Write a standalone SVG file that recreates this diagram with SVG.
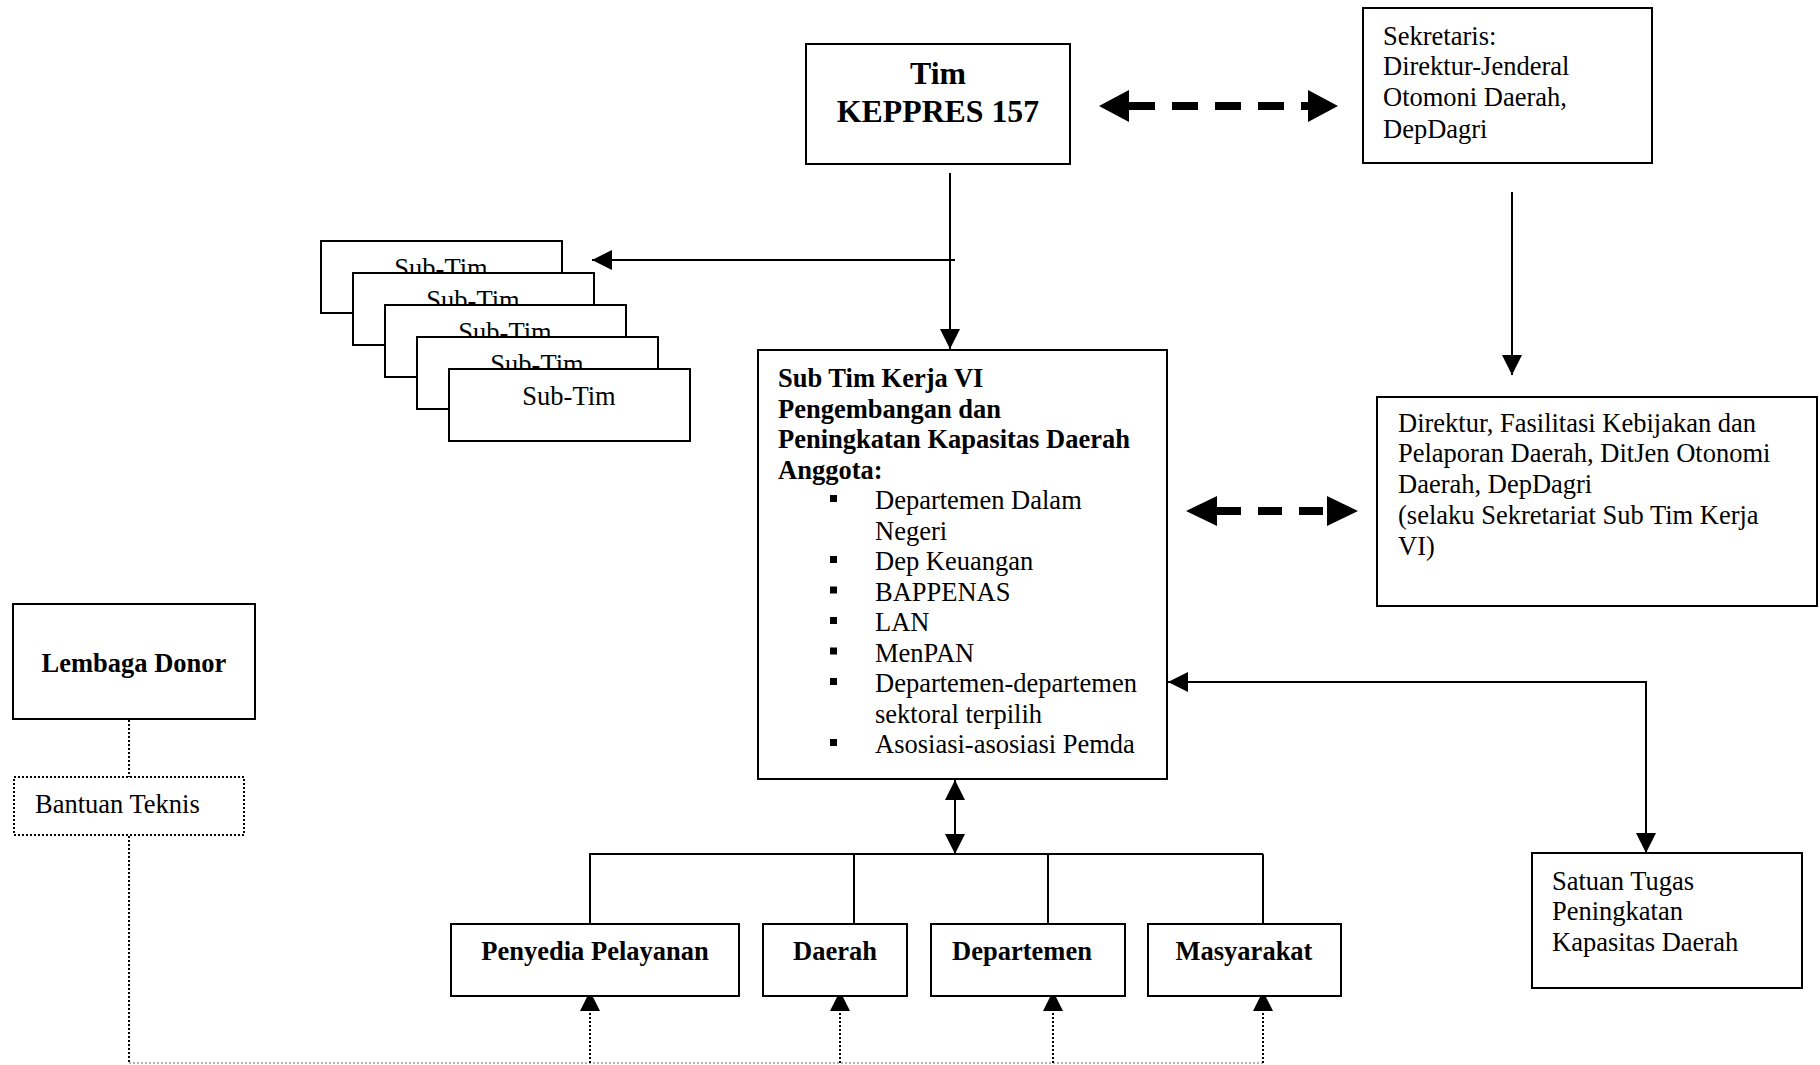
<svg xmlns="http://www.w3.org/2000/svg" width="1820" height="1065" viewBox="0 0 1820 1065">
<style>
  .box{fill:#fff;stroke:#000;stroke-width:2}
  .dbox{fill:#fff;stroke:#000;stroke-width:2;stroke-dasharray:2 2}
  .t{font-family:"Liberation Serif","Times New Roman",serif;font-size:26.5px;fill:#000}
  .b{font-weight:bold}
  .c{text-anchor:middle}
  .ln{fill:none;stroke:#000;stroke-width:2}
  .dash{fill:none;stroke:#000;stroke-width:8}
  .dot{fill:none;stroke:#000;stroke-width:2;stroke-dasharray:2 2}
  .gdot{fill:none;stroke:#999;stroke-width:1.5;stroke-dasharray:2 2}
  .hd{fill:#000}
</style>
<defs>
  <marker id="ah" markerWidth="20" markerHeight="20" refX="20" refY="10" orient="auto" markerUnits="userSpaceOnUse">
    <path d="M0,0 L20,10 L0,20 Z" fill="#000"/>
  </marker>
  <marker id="ahs" markerWidth="20" markerHeight="20" refX="20" refY="10" orient="auto-start-reverse" markerUnits="userSpaceOnUse">
    <path d="M0,0 L20,10 L0,20 Z" fill="#000"/>
  </marker>
</defs>

<g id="connectors">
  <!-- Tim to Sekretaris dashed double arrow -->
  <line class="dash" x1="1129" y1="106" x2="1310" y2="106" stroke-dasharray="26 17"/>
  <polygon class="hd" points="1099,106 1129,90 1129,122"/>
  <polygon class="hd" points="1338,106 1308,90 1308,122"/>
  <!-- Tim down to Sub Tim Kerja VI -->
  <line class="ln" x1="950" y1="173" x2="950" y2="349" marker-end="url(#ah)"/>
  <!-- to Sub-Tim stack -->
  <line class="ln" x1="955" y1="260" x2="592" y2="260" marker-end="url(#ah)"/>
  <!-- Sekretaris down to Direktur -->
  <line class="ln" x1="1512" y1="192" x2="1512" y2="375" marker-end="url(#ah)"/>
  <!-- Sub Tim to Direktur dashed double arrow -->
  <line class="dash" x1="1217" y1="511" x2="1327" y2="511" stroke-dasharray="24 17"/>
  <polygon class="hd" points="1186,511 1217,496 1217,526"/>
  <polygon class="hd" points="1358,511 1327,496 1327,526"/>
  <!-- Sub Tim to Satuan Tugas -->
  <polyline class="ln" points="1646,853 1646,682 1168,682" marker-start="url(#ahs)" marker-end="url(#ah)"/>
  <!-- Sub Tim to bottom bus -->
  <line class="ln" x1="955" y1="780" x2="955" y2="854" marker-start="url(#ahs)" marker-end="url(#ah)"/>
  <line class="ln" x1="590" y1="854" x2="1263" y2="854"/>
  <line class="ln" x1="590" y1="853" x2="590" y2="925"/>
  <line class="ln" x1="854" y1="854" x2="854" y2="925"/>
  <line class="ln" x1="1048" y1="854" x2="1048" y2="925"/>
  <line class="ln" x1="1263" y1="854" x2="1263" y2="925"/>
  <!-- Lembaga Donor dotted -->
  <line class="dot" x1="129" y1="720" x2="129" y2="777"/>
  <line class="dot" x1="129" y1="836" x2="129" y2="1063"/>
  <line class="gdot" x1="129" y1="1063" x2="1263" y2="1063"/>
  <line class="dot" x1="590" y1="1063" x2="590" y2="1007"/>
  <polygon class="hd" points="590,991 580,1011 600,1011"/>
  <line class="dot" x1="840" y1="1063" x2="840" y2="1007"/>
  <polygon class="hd" points="840,991 830,1011 850,1011"/>
  <line class="dot" x1="1053" y1="1063" x2="1053" y2="1007"/>
  <polygon class="hd" points="1053,991 1043,1011 1063,1011"/>
  <line class="dot" x1="1263" y1="1063" x2="1263" y2="1007"/>
  <polygon class="hd" points="1263,991 1253,1011 1273,1011"/>
</g>

<g id="tim">
  <rect class="box" x="806" y="44" width="264" height="120"/>
  <text class="t b c" x="938" y="84" style="font-size:31.8px">Tim</text>
  <text class="t b c" x="938" y="122" style="font-size:31.8px">KEPPRES 157</text>
</g>

<g id="sekretaris">
  <rect class="box" x="1363" y="8" width="289" height="155"/>
  <text class="t" x="1383" y="45">Sekretaris:</text>
  <text class="t" x="1383" y="75">Direktur-Jenderal</text>
  <text class="t" x="1383" y="106">Otomoni Daerah,</text>
  <text class="t" x="1383" y="138">DepDagri</text>
</g>

<g id="subtim-stack">
  <g id="subtim1">
    <rect class="box" x="321" y="241" width="241" height="72"/>
    <text class="t c" x="441" y="277">Sub-Tim</text>
  </g>
  <g id="subtim2">
    <rect class="box" x="353" y="273" width="241" height="72"/>
    <text class="t c" x="473" y="309">Sub-Tim</text>
  </g>
  <g id="subtim3">
    <rect class="box" x="385" y="305" width="241" height="72"/>
    <text class="t c" x="505" y="341">Sub-Tim</text>
  </g>
  <g id="subtim4">
    <rect class="box" x="417" y="337" width="241" height="72"/>
    <text class="t c" x="537" y="373">Sub-Tim</text>
  </g>
  <g id="subtim5">
    <rect class="box" x="449" y="369" width="241" height="72"/>
    <text class="t c" x="569" y="405">Sub-Tim</text>
  </g>
</g>

<g id="subtim-kerja">
  <rect class="box" x="758" y="350" width="409" height="429"/>
  <text class="t b" x="778" y="387">Sub Tim Kerja VI</text>
  <text class="t b" x="778" y="417.5">Pengembangan dan</text>
  <text class="t b" x="778" y="448">Peningkatan Kapasitas Daerah</text>
  <text class="t b" x="778" y="478.5">Anggota:</text>
  <g fill="#000">
    <rect x="830" y="495" width="7" height="7"/>
    <rect x="830" y="556" width="7" height="7"/>
    <rect x="830" y="586.5" width="7" height="7"/>
    <rect x="830" y="617" width="7" height="7"/>
    <rect x="830" y="647.5" width="7" height="7"/>
    <rect x="830" y="678" width="7" height="7"/>
    <rect x="830" y="739" width="7" height="7"/>
  </g>
  <text class="t" x="875" y="509">Departemen Dalam</text>
  <text class="t" x="875" y="539.5">Negeri</text>
  <text class="t" x="875" y="570">Dep Keuangan</text>
  <text class="t" x="875" y="600.5">BAPPENAS</text>
  <text class="t" x="875" y="631">LAN</text>
  <text class="t" x="875" y="661.5">MenPAN</text>
  <text class="t" x="875" y="692">Departemen-departemen</text>
  <text class="t" x="875" y="722.5">sektoral terpilih</text>
  <text class="t" x="875" y="753">Asosiasi-asosiasi Pemda</text>
</g>

<g id="direktur">
  <rect class="box" x="1377" y="397" width="440" height="209"/>
  <text class="t" x="1398" y="432">Direktur, Fasilitasi Kebijakan dan</text>
  <text class="t" x="1398" y="462">Pelaporan Daerah, DitJen Otonomi</text>
  <text class="t" x="1398" y="493">Daerah, DepDagri</text>
  <text class="t" x="1398" y="524">(selaku Sekretariat Sub Tim Kerja</text>
  <text class="t" x="1398" y="555">VI)</text>
</g>

<g id="lembaga-donor">
  <rect class="box" x="13" y="604" width="242" height="115"/>
  <text class="t b c" x="134" y="672">Lembaga Donor</text>
</g>

<g id="bantuan-teknis">
  <rect class="dbox" x="14" y="777" width="230" height="58"/>
  <text class="t" x="35" y="813">Bantuan Teknis</text>
</g>

<g id="satuan-tugas">
  <rect class="box" x="1532" y="853" width="270" height="135"/>
  <text class="t" x="1552" y="890">Satuan Tugas</text>
  <text class="t" x="1552" y="920">Peningkatan</text>
  <text class="t" x="1552" y="951">Kapasitas Daerah</text>
</g>

<g id="penyedia">
  <rect class="box" x="451" y="924" width="288" height="72"/>
  <text class="t b c" x="595" y="960">Penyedia Pelayanan</text>
</g>
<g id="daerah">
  <rect class="box" x="763" y="924" width="144" height="72"/>
  <text class="t b c" x="835" y="960">Daerah</text>
</g>
<g id="departemen">
  <rect class="box" x="931" y="924" width="194" height="72"/>
  <text class="t b c" x="1022" y="960">Departemen</text>
</g>
<g id="masyarakat">
  <rect class="box" x="1148" y="924" width="193" height="72"/>
  <text class="t b c" x="1244" y="960">Masyarakat</text>
</g>
</svg>
